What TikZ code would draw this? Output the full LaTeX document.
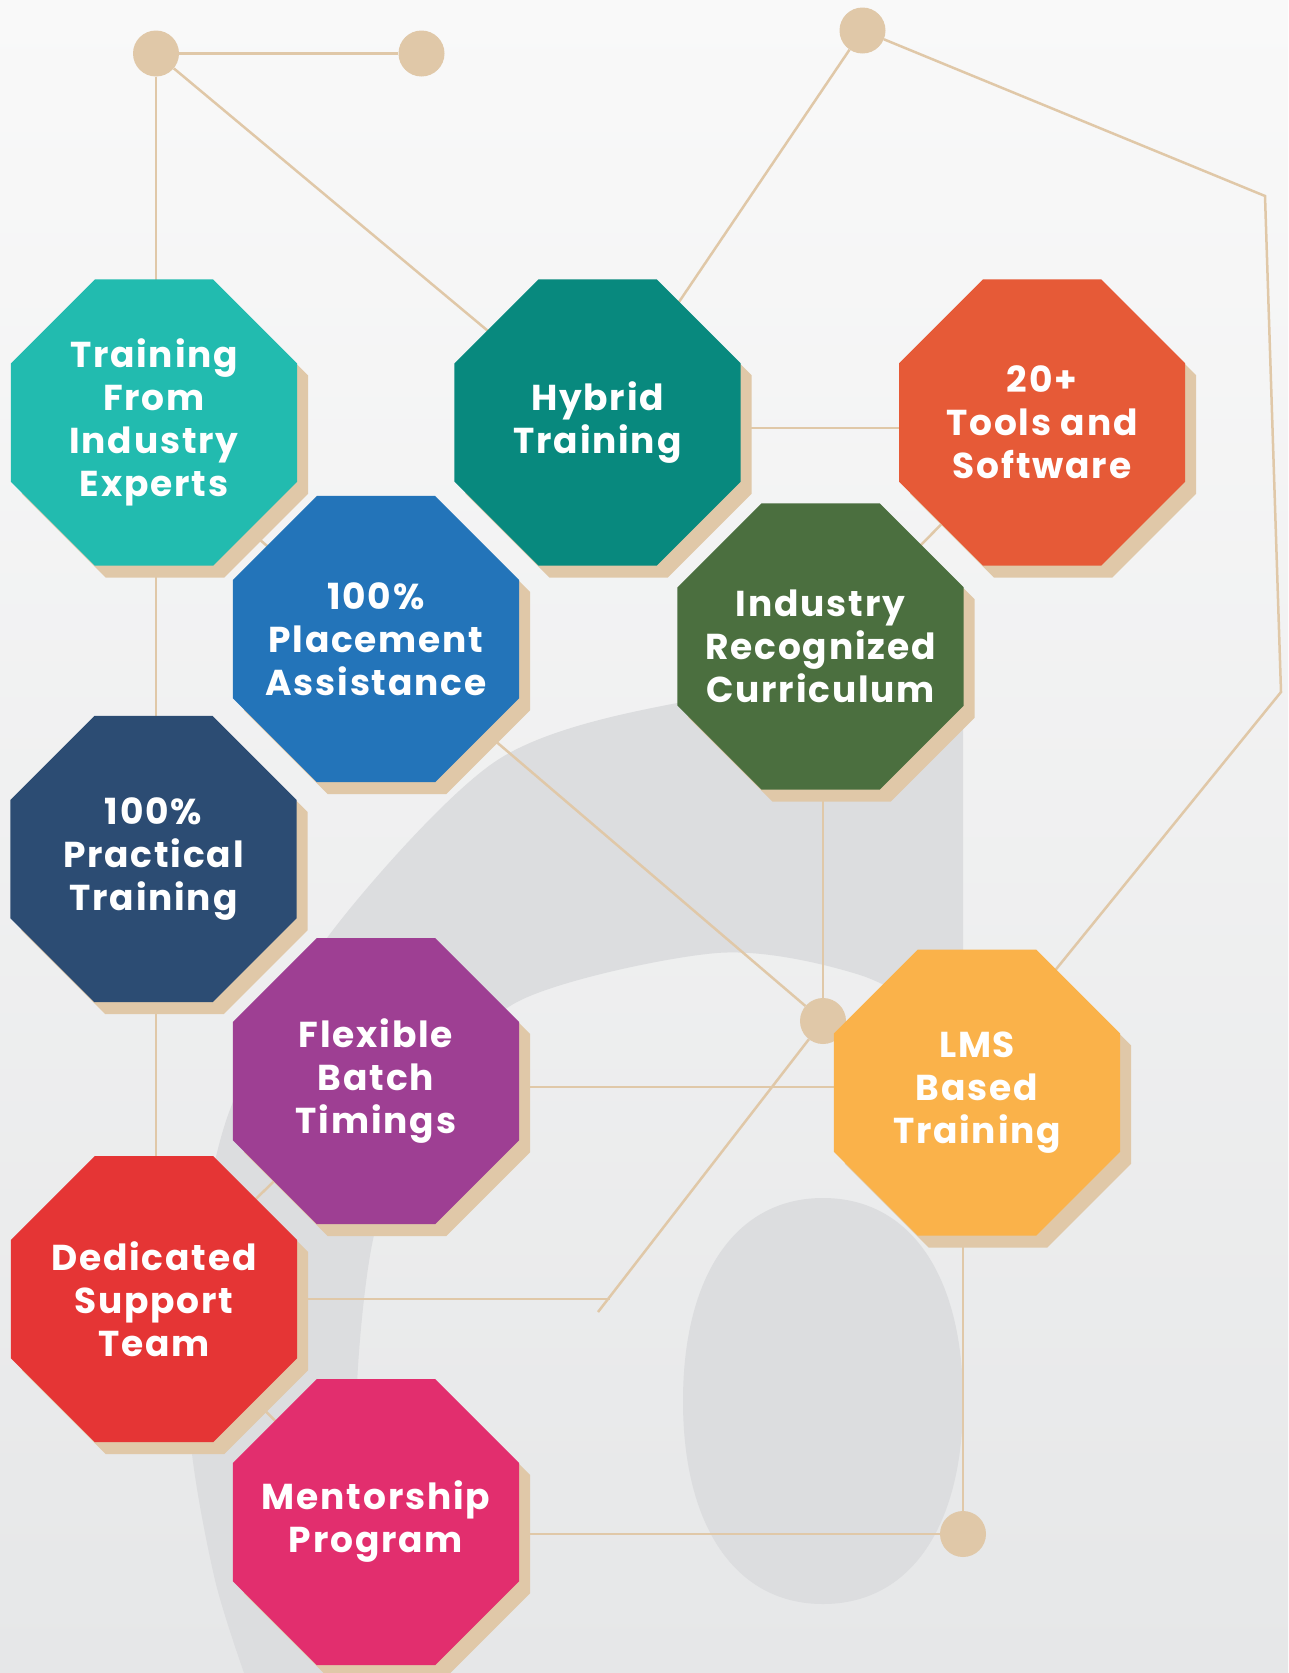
\documentclass[tikz,border=0pt]{standalone}
\usepackage{fontspec}
\newfontfamily\pop{Poppins}[LetterSpace=5]
\usetikzlibrary{shapes.geometric,shadows,calc}
\definecolor{tanc}{HTML}{E0C8A8}
\definecolor{grayc}{HTML}{DCDDDF}
\definecolor{bgtop}{HTML}{F9F9F9}
\definecolor{bgbot}{HTML}{E6E7E8}
\definecolor{cteal}{HTML}{22BBAF}
\definecolor{chybrid}{HTML}{08897E}
\definecolor{ctools}{HTML}{E65A37}
\definecolor{cblue}{HTML}{2374B9}
\definecolor{cgreen}{HTML}{4B6F3F}
\definecolor{cnavy}{HTML}{2C4C73}
\definecolor{cpurple}{HTML}{9E3F93}
\definecolor{clms}{HTML}{FAB24A}
\definecolor{cred}{HTML}{E53535}
\definecolor{cpink}{HTML}{E22E6E}
\pgfdeclarelayer{back}
\pgfdeclarelayer{bg}
\pgfsetlayers{back,bg,main}
\begin{document}
\begin{tikzpicture}[x=1pt,y=-1pt,
  link/.style={draw=tanc,line width=2.5pt},
  dotnode/.style={circle,fill=tanc,minimum size=46pt,inner sep=0pt},
  oct/.style={regular polygon,regular polygon sides=8,minimum size=309.6pt,
    inner sep=-45pt,text=white,align=center,
    font=\pop\bfseries\fontsize{36pt}{43pt}\selectfont,
    drop shadow={shadow xshift=11pt,shadow yshift=-12pt,fill=tanc,opacity=1}}]
\useasboundingbox (0,0) rectangle (1288,1673);
% octagons
\node[oct,fill=cteal]   (teal)   at (154,422.5)  {Training\\From\\Industry\\Experts};
\node[oct,fill=chybrid] (hybrid) at (597.5,422.5){Hybrid\\Training};
\node[oct,fill=ctools]  (tools)  at (1042,422.5) {20+\\Tools and\\Software};
\node[oct,fill=cblue]   (blue)   at (376,639)    {100\%\\Placement\\Assistance};
\node[oct,fill=cgreen]  (green)  at (820.5,646.5){Industry\\Recognized\\Curriculum};
\node[oct,fill=cnavy]   (navy)   at (153.5,859)  {100\%\\Practical\\Training};
\node[oct,fill=cpurple] (purple) at (376,1081)   {Flexible\\Batch\\Timings};
\node[oct,fill=clms]    (lms)    at (977,1092.5) {LMS\\Based\\Training};
\node[oct,fill=cred]    (red)    at (154,1299)   {Dedicated\\Support\\Team};
\node[oct,fill=cpink]   (pink)   at (376,1522)   {Mentorship\\Program};
\begin{pgfonlayer}{bg}
\node[dotnode] (c1) at (156,53.5) {};
\node[dotnode] (c2) at (421.5,53.5) {};
\node[dotnode] (c3) at (862.5,30.5) {};
\node[dotnode] (c4) at (823,1021) {};
\node[dotnode] (c5) at (963,1534) {};
\coordinate (k1) at (610,1299);
\coordinate (k2) at (598,1312);
\coordinate (k3) at (1040,989);
\coordinate (k4) at (1265,196);
\coordinate (k5) at (1281,692);
\coordinate (k6) at ($(c4.center)!1.3!(blue.center)$);
\draw[link] (c1) -- (c2);
\draw[link] (c1) -- (c1 |- red.center);
\draw[link] (c1) -- (hybrid.center);
\draw[link] (c3) -- (hybrid.center);
\draw[link] (c3) -- (k4) -- (k5) -- (k3);
\draw[link] (hybrid.center |- 0,428) -- (tools.center |- 0,428);
\draw[link] (green.center) -- (tools.center);
\draw[link] (c4) -- (k6);
\draw[link] (c4 |- green.center) -- (c4);
\draw[link] (purple.center |- 0,1087) -- (lms.center |- 0,1087);
\draw[link] (red.center) -- (k1);
\draw[link] (c4) -- (k2);
\draw[link] (red.center) -- (purple.center);
\draw[link] (red.center) -- (pink.center);
\draw[link] (pink.center |- c5) -- (c5);
\draw[link] (c5 |- lms.center) -- (c5);
\end{pgfonlayer}
\begin{pgfonlayer}{back}
\shade[top color=bgtop,bottom color=bgbot] (0,0) rectangle (1288,1673);
\fill[grayc] plot[smooth] coordinates {(963,696) (850,692) (672,704) (496,761) (333,930) (231,1107) (195,1280) (190,1433) (215,1580) (250,1690)}
  -- plot[smooth] coordinates {(400,1690) (362,1520) (357,1385) (374,1235) (420,1110) (517,1002) (717,953) (860,975) (963,1030)} -- cycle;
\fill[grayc] (683,1401) .. controls (683,1275) and (736,1198) .. (823,1198)
  .. controls (910,1198) and (963,1275) .. (963,1401)
  .. controls (963,1527) and (910,1604) .. (823,1604)
  .. controls (736,1604) and (683,1527) .. (683,1401) -- cycle;
\end{pgfonlayer}
\end{tikzpicture}
\end{document}
